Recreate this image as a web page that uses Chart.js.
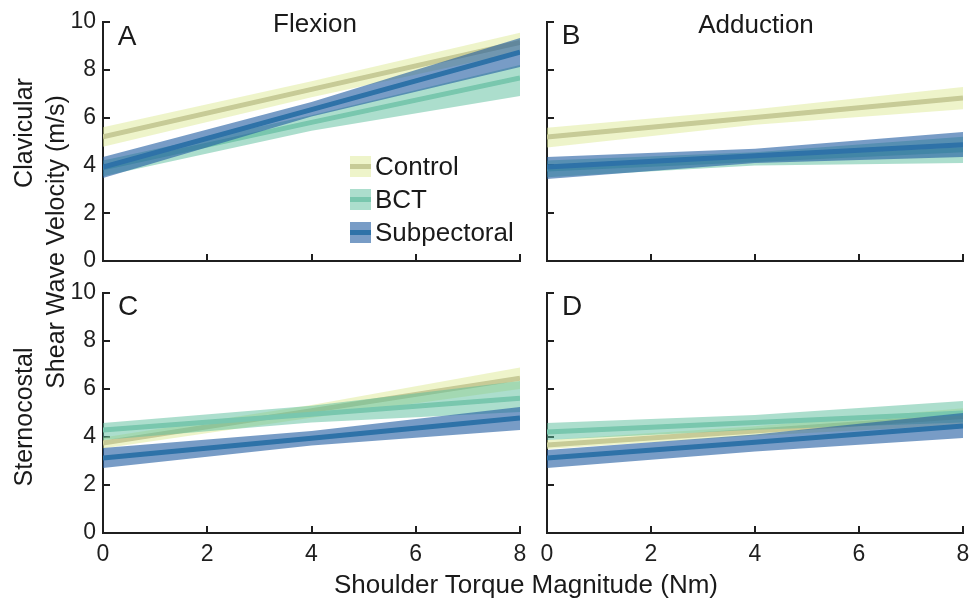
<!DOCTYPE html>
<html>
<head>
<meta charset="utf-8">
<script src="https://cdn.jsdelivr.net/npm/chart.js@4.4.1/dist/chart.umd.min.js"></script>
<style>
  html, body { margin: 0; padding: 0; background: #fff; }
  #fig { position: relative; width: 969px; height: 605px; overflow: hidden;
         font-family: "Liberation Sans", Arial, sans-serif; color: #1a1a1a; }
  #fig canvas { position: absolute; }
  .lbl { position: absolute; white-space: nowrap; line-height: 1; }
  .c { transform: translate(-50%, -50%); }
  .v { transform: translate(-50%, -50%) rotate(-90deg); }
  .key { position: absolute; left: 350px; display: flex; align-items: center; }
  .patch { width: 21px; height: 21px; position: relative; margin-right: 4px; }
  .patch span { position: absolute; left: 0; right: 0; top: 8px; height: 5px; }
</style>
</head>
<body>
<div id="fig"></div>
<script>
// Shoulder torque (Nm) at which each fit and its confidence band are given
const torqueNm = [0, 4, 8];
const groups = ['Control', 'BCT', 'Subpectoral'];
const xTicks = [0, 2, 4, 6, 8];
const yTicks = [0, 2, 4, 6, 8, 10];

// A: clavicular, flexion
const A_control   = [5.20, 7.18, 9.15];
const A_controlLo = [4.78, 6.85, 8.75];
const A_controlHi = [5.60, 7.52, 9.55];
const A_bct       = [3.90, 5.80, 7.66];
const A_bctLo     = [3.55, 5.45, 6.90];
const A_bctHi     = [4.20, 6.10, 8.20];
const A_sub       = [3.93, 6.33, 8.74];
const A_subLo     = [3.47, 6.05, 8.12];
const A_subHi     = [4.35, 6.65, 9.33];

// B: clavicular, adduction
const B_control   = [5.19, 6.00, 6.82];
const B_controlLo = [4.75, 5.70, 6.35];
const B_controlHi = [5.58, 6.35, 7.28];
const B_bct       = [3.85, 4.25, 4.65];
const B_bctLo     = [3.50, 4.00, 4.10];
const B_bctHi     = [4.20, 4.55, 5.20];
const B_sub       = [3.93, 4.40, 4.86];
const B_subLo     = [3.43, 4.10, 4.35];
const B_subHi     = [4.35, 4.70, 5.40];

// C: sternocostal, flexion
const C_control   = [3.75, 5.10, 6.45];
const C_controlLo = [3.52, 4.80, 6.00];
const C_controlHi = [3.98, 5.33, 6.90];
const C_bct       = [4.29, 4.95, 5.62];
const C_bctLo     = [3.88, 4.60, 5.04];
const C_bctHi     = [4.58, 5.30, 6.33];
const C_sub       = [3.12, 3.95, 4.79];
const C_subLo     = [2.71, 3.65, 4.29];
const C_subHi     = [3.54, 4.25, 5.25];

// D: sternocostal, adduction
const D_control   = [3.67, 4.25, 4.85];
const D_controlLo = [3.50, 4.05, 4.50];
const D_controlHi = [3.88, 4.45, 5.20];
const D_bct       = [4.21, 4.60, 5.00];
const D_bctLo     = [3.88, 4.30, 4.60];
const D_bctHi     = [4.58, 4.92, 5.50];
const D_sub       = [3.12, 3.78, 4.46];
const D_subLo     = [2.71, 3.40, 3.96];
const D_subHi     = [3.46, 4.10, 5.00];

const lineColors = ['#c7cb97', '#79c7ae', '#2e72a8'];
const bandColors = ['rgba(220,232,145,0.48)', 'rgba(90,190,155,0.5)', 'rgba(30,90,160,0.6)'];

const FONT = '"Liberation Sans", Arial, sans-serif';
const INK = '#1f1f1f';
const fig = document.getElementById('fig');

function pts(vals) { return torqueNm.map((x, i) => ({ x: x, y: vals[i] })); }

// Datasets listed top-most first: Subpectoral, BCT, Control
function buildDatasets(series) {
  const out = [];
  for (let g = series.length - 1; g >= 0; g--) {
    const s = series[g];
    out.push({ label: groups[g], data: pts(s.fit), borderColor: lineColors[g], borderWidth: 5,
               borderCapStyle: 'butt', pointRadius: 0, fill: false, tension: 0 });
    out.push({ label: groups[g] + ' upper', data: pts(s.hi), borderWidth: 0, borderColor: 'transparent',
               backgroundColor: bandColors[g], pointRadius: 0, fill: '+1', tension: 0 });
    out.push({ label: groups[g] + ' lower', data: pts(s.lo), borderWidth: 0, borderColor: 'transparent',
               pointRadius: 0, fill: false, tension: 0 });
  }
  return out;
}

// Fixed axis sizes; tick-label overflow is left to the canvas margins
function fixSize(prop, size) {
  return s => {
    s[prop] = size;
    s.paddingLeft = 0; s.paddingRight = 0; s.paddingTop = 0; s.paddingBottom = 0;
  };
}

function makePanel(box, series, showX, showY) {
  const cv = document.createElement('canvas');
  cv.width = box.w; cv.height = box.h;
  cv.style.left = box.left + 'px'; cv.style.top = box.top + 'px';
  cv.style.width = box.w + 'px'; cv.style.height = box.h + 'px';
  fig.appendChild(cv);
  const axisGrid = { drawOnChartArea: false, drawTicks: true, tickLength: -7, color: INK, lineWidth: 2 };
  new Chart(cv.getContext('2d'), {
    type: 'line',
    data: { datasets: buildDatasets(series) },
    options: {
      responsive: false, animation: false, devicePixelRatio: 1,
      layout: { padding: box.pad },
      plugins: { legend: { display: false }, tooltip: { enabled: false } },
      scales: {
        x: {
          type: 'linear', min: 0, max: 8,
          afterBuildTicks: s => { s.ticks = xTicks.map(v => ({ value: v })); },
          afterFit: fixSize('height', box.xh),
          grid: axisGrid,
          border: { display: true, color: INK, width: 2 },
          ticks: { display: showX, color: INK, padding: 15, maxRotation: 0,
                   font: { family: FONT, size: 23 } }
        },
        y: {
          type: 'linear', min: 0, max: 10,
          afterBuildTicks: s => { s.ticks = yTicks.map(v => ({ value: v })); },
          afterFit: fixSize('width', box.yw),
          grid: axisGrid,
          border: { display: true, color: INK, width: 2 },
          ticks: { display: showY, color: INK, padding: 14,
                   font: { family: FONT, size: 23 } }
        }
      }
    }
  });
}

makePanel({ left: 0, top: 0, w: 530, h: 280, yw: 50, xh: 19, pad: { left: 53, right: 10, top: 22, bottom: 0 } },
  [{ fit: A_control, lo: A_controlLo, hi: A_controlHi },
   { fit: A_bct, lo: A_bctLo, hi: A_bctHi },
   { fit: A_sub, lo: A_subLo, hi: A_subHi }], false, true);
makePanel({ left: 530, top: 0, w: 439, h: 280, yw: 10, xh: 19, pad: { left: 7, right: 6, top: 22, bottom: 0 } },
  [{ fit: B_control, lo: B_controlLo, hi: B_controlHi },
   { fit: B_bct, lo: B_bctLo, hi: B_bctHi },
   { fit: B_sub, lo: B_subLo, hi: B_subHi }], false, false);
makePanel({ left: 0, top: 272, w: 530, h: 301, yw: 50, xh: 40, pad: { left: 53, right: 10, top: 21, bottom: 0 } },
  [{ fit: C_control, lo: C_controlLo, hi: C_controlHi },
   { fit: C_bct, lo: C_bctLo, hi: C_bctHi },
   { fit: C_sub, lo: C_subLo, hi: C_subHi }], true, true);
makePanel({ left: 530, top: 272, w: 439, h: 301, yw: 10, xh: 40, pad: { left: 7, right: 6, top: 21, bottom: 0 } },
  [{ fit: D_control, lo: D_controlLo, hi: D_controlHi },
   { fit: D_bct, lo: D_bctLo, hi: D_bctHi },
   { fit: D_sub, lo: D_subLo, hi: D_subHi }], true, false);

// Text labels
function label(text, x, y, size, cls) {
  const d = document.createElement('div');
  d.className = 'lbl ' + cls;
  d.textContent = text;
  d.style.left = x + 'px'; d.style.top = y + 'px';
  d.style.fontSize = size + 'px';
  fig.appendChild(d);
  return d;
}
label('Flexion', 315, 23, 26, 'c');
label('Adduction', 756, 24, 26, 'c');
label('A', 127, 36, 28, 'c');
label('B', 571, 35, 28, 'c');
label('C', 128, 306, 28, 'c');
label('D', 572, 306, 28, 'c');
label('Clavicular', 23, 133, 25, 'v');
label('Shear Wave Velocity (m/s)', 55, 242, 25, 'v');
label('Sternocostal', 23, 417, 25, 'v');
label('Shoulder Torque Magnitude (Nm)', 526, 584, 26, 'c');

// Legend inside panel A
const keyTops = [156, 189, 222];
groups.forEach((g, i) => {
  const row = document.createElement('div');
  row.className = 'key';
  row.style.top = keyTops[i] + 'px';
  const p = document.createElement('div');
  p.className = 'patch';
  p.style.background = bandColors[i];
  const s = document.createElement('span');
  s.style.background = lineColors[i];
  p.appendChild(s);
  const t = document.createElement('div');
  t.textContent = g;
  t.style.fontSize = '26px';
  t.style.lineHeight = '21px';
  row.appendChild(p); row.appendChild(t);
  fig.appendChild(row);
});
</script>
</body>
</html>
